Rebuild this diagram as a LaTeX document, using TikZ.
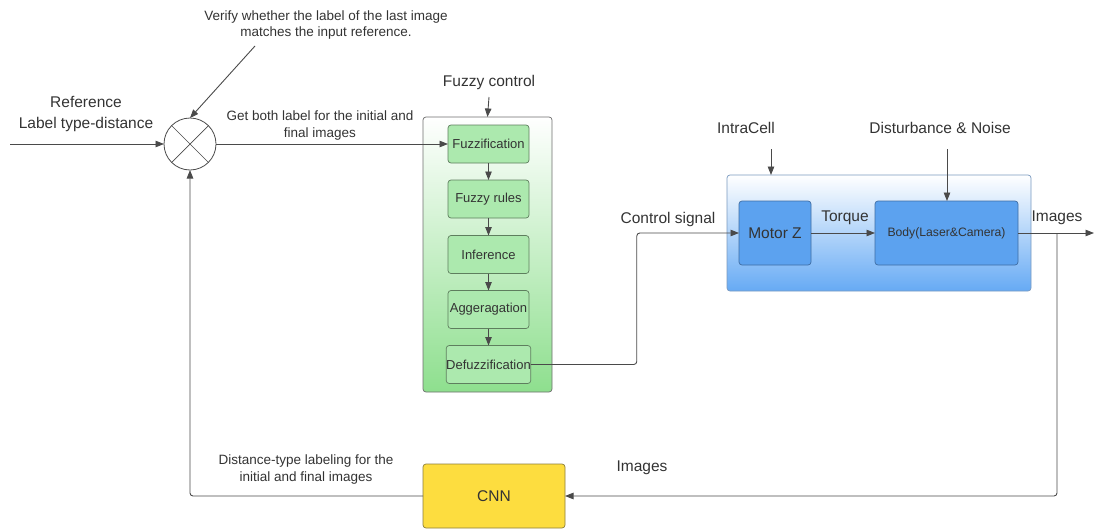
\documentclass[tikz,border=0pt]{standalone}
\usepackage{fontspec}
\setmainfont{Liberation Sans}
\usetikzlibrary{arrows.meta,shadings}
\definecolor{txt}{HTML}{333333}
\definecolor{ln}{HTML}{4A4A4A}
\definecolor{gfill}{HTML}{ACE9AE}
\definecolor{gline}{HTML}{5E7E5E}
\definecolor{gbot}{HTML}{8EDF8E}
\definecolor{bfill}{HTML}{5CA2EF}
\definecolor{bline}{HTML}{3F6DA3}
\definecolor{bbot}{HTML}{66AAF4}
\definecolor{yfill}{HTML}{FDDD3F}
\definecolor{yline}{HTML}{8C7E3A}
\begin{document}
\begin{tikzpicture}[x=1pt,y=-1pt,
  every node/.style={text=txt, inner sep=0pt, outer sep=0pt},
  big/.style={font=\fontsize{15.5}{21}\selectfont},
  mid/.style={font=\fontsize{13.5}{16.5}\selectfont},
  arr/.style={draw=ln, line width=0.9pt, -{Triangle[length=8.5pt,width=6.5pt]}},
  plain/.style={draw=ln, line width=0.9pt},
  fuzzstep/.style={draw=gline, fill=gfill, rounded corners=3pt, line width=0.7pt,
    minimum width=81pt, minimum height=38pt, font=\fontsize{13}{15}\selectfont},
  bluebox/.style={draw=bline, fill=bfill, rounded corners=3pt, line width=0.7pt,
    minimum height=64pt},
]
\useasboundingbox (0,0) rectangle (1094,530);
% outer containers
\node[draw=ln!80, line width=0.7pt, rounded corners=3pt, top color=white, bottom color=gbot,
  minimum width=129pt, minimum height=275pt] (fuzzybox) at (487.5,254.5) {};
\node[draw=bline!70, line width=0.7pt, rounded corners=3pt, top color=white, bottom color=bbot,
  minimum width=304pt, minimum height=116pt] (plant) at (879,233) {};

% summing junction
\node[draw=ln, line width=0.8pt, circle, minimum size=52pt,
  path picture={\draw[ln, line width=0.7pt] (path picture bounding box.north west) -- (path picture bounding box.south east)
    (path picture bounding box.north east) -- (path picture bounding box.south west);}] (sum) at (190,144) {};

% texts
\node[big, align=center] (reflbl) at (86,114) {Reference\\Label type-distance};
\node[mid, align=center] (verify) at (326,25) {Verify whether the label of the last image\\matches the input reference.};
\node[mid, align=center] (getboth) at (320,125.5) {Get both label for the initial and\\final images};
\node[big] (fclbl) at (489,82) {Fuzzy control};
\node[big] (cslbl) at (668,219) {Control signal};
\node[big] (intra) at (746,128) {IntraCell};
\node[big] (dist) at (940,128) {Disturbance \& Noise};
\node[big] (torque) at (845,218) {Torque};
\node[big] (imglbl) at (1057,218) {Images};
\node[big] (imglbl2) at (642,468) {Images};
\node[mid, align=center] (dtl) at (306,469.5) {Distance-type labeling for the\\initial and final images};

% fuzzy steps
\node[fuzzstep] (fuzz) at (488.5,144) {Fuzzification};
\node[fuzzstep] (rules) at (488.5,199) {Fuzzy rules};
\node[fuzzstep] (infer) at (488.5,254.5) {Inference};
\node[fuzzstep] (aggr) at (488.5,309.5) {Aggeragation};
\node[fuzzstep] (defuzz) at (488.5,364.5) {Defuzzification};

% plant blocks
\node[bluebox, minimum width=72pt, font=\fontsize{15.5}{18}\selectfont] (motor) at (775,233) {Motor Z};
\node[bluebox, minimum width=143pt, font=\fontsize{12.2}{15}\selectfont] (body) at (946.5,233) {Body(Laser\&Camera)};

% CNN
\node[draw=yline, fill=yfill, rounded corners=3pt, line width=0.7pt, minimum width=142pt, minimum height=64pt,
  font=\fontsize{15.5}{18}\selectfont] (cnn) at (494,496) {CNN};

% coordinates
\coordinate (in) at (10,144);
\coordinate (vstart) at (255,46);
\coordinate (fcin) at (489,97);
\coordinate (intrain) at (771,149);
\coordinate (distin) at (947,149);
\coordinate (out) at (1094,233);
\coordinate (br) at (1057,233);

% connectors
\draw[arr] (in) -- (sum.west);
\draw[arr] (vstart) -- (sum.north);
\draw[arr] (sum.east) -- (fuzz.west);
\draw[arr] (fcin) -- (fuzzybox.north);
\draw[arr] (fuzz) -- (rules);
\draw[arr] (rules) -- (infer);
\draw[arr] (infer) -- (aggr);
\draw[arr] (aggr) -- (defuzz);
\draw[arr, rounded corners=3pt] (defuzz.east) -- ++(106,0) |- (motor.west);
\draw[arr] (intrain) -- (intrain |- plant.north);
\draw[arr] (distin) -- (distin |- body.north);
\draw[arr] (motor) -- (body);
\draw[arr] (body) -- (out);
\draw[arr, rounded corners=3pt] (br) |- (cnn.east);
\draw[arr, rounded corners=3pt] (cnn.west) -| (sum.south);
\end{tikzpicture}
\end{document}
